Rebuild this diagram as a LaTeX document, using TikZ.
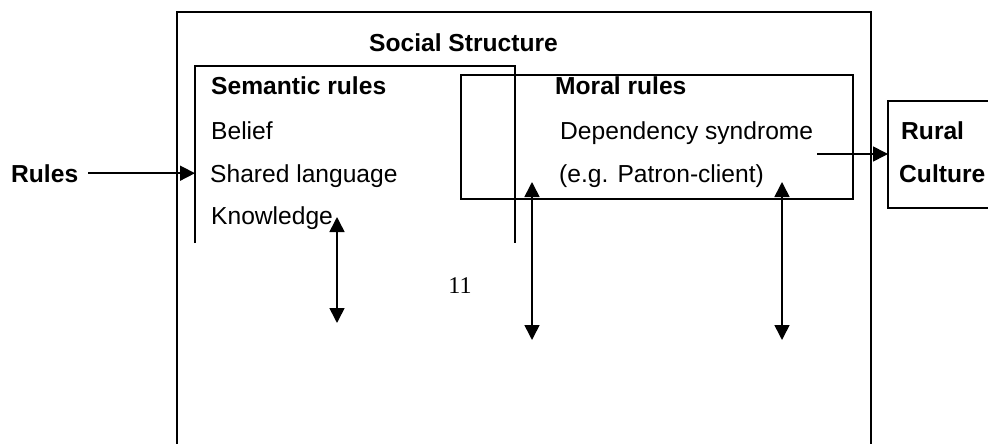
\documentclass[tikz,border=0pt]{standalone}
\usepackage{fontspec}
\setmainfont{Liberation Sans}
\newfontfamily\timesfont{Liberation Serif}
\usetikzlibrary{arrows.meta}
\begin{document}
\begin{tikzpicture}[x=1pt,y=-1pt,
  lbl/.style={anchor=base west,inner sep=0pt,font=\fontsize{24.6}{28}\selectfont},
  blbl/.style={anchor=base west,inner sep=0pt,font=\fontsize{24.6}{28}\selectfont\bfseries},
  ln/.style={line width=1.6pt},
  boxnode/.style={inner sep=0pt,outer sep=0pt},
  arr/.style={ln,-{Triangle[length=15pt,width=15pt]}},
  darr/.style={ln,{Triangle[length=15pt,width=15pt]}-{Triangle[length=15pt,width=15pt]}}]
\useasboundingbox (0,0) rectangle (988,444);
% outer box (open at the bottom, runs past the page)
\node (outer) [boxnode,draw,line width=2pt,minimum width=694pt,minimum height=470pt] at (524,247) {};
% semantic box (open at the bottom)
\node (sem) [boxnode,minimum width=320pt,minimum height=177pt] at (355,154.5) {};
\draw[ln] (sem.south west) -- (sem.north west) -- (sem.north east) -- (sem.south east);
% moral box
\node (moral) [boxnode,draw,ln,minimum width=392pt,minimum height=124pt] at (657,137) {};
% rural box
\node (rural) [boxnode,draw,ln,minimum width=122pt,minimum height=107pt] at (949,154.5) {};
% texts
\node (social) [blbl] at (369,52) {Social Structure};
\node (semt) [blbl] at (211,94) {Semantic rules};
\node (belief) [lbl] at (211,139) {Belief};
\node (shared) [lbl] at (210,182) {Shared language};
\node (know) [lbl] at (211,224) {Knowledge};
\node (moralt) [blbl] at (555,95) {Moral rules};
\node (dep) [lbl] at (560,139) {Dependency syndrome};
\node (eg) [lbl] at (559,182) {(e.g. Patron-client)};
\node (ruralt) [blbl] at (901,139) {Rural};
\node (culture) [blbl] at (899,182) {Culture};
\node (rules) [blbl] at (11,182) {Rules};
\node (pg) [anchor=base,inner sep=0pt,font=\timesfont\fontsize{24}{27}\selectfont] at (460,293) {11};
% connectors
\draw[arr] ([xshift=10pt]rules.east) -- (rules.east -| sem.west);
\coordinate (rs) at (817,154);
\draw[arr] (rs) -- (rs -| rural.west);
\coordinate (k1) at (337,217);
\coordinate (k2) at (337,323);
\draw[darr] (k2) -- (k1);
\coordinate (a1) at (532,182);
\coordinate (a2) at (532,340);
\draw[darr] (a2) -- (a1);
\coordinate (b1) at (782,182);
\coordinate (b2) at (782,340);
\draw[darr] (b2) -- (b1);
\end{tikzpicture}
\end{document}
